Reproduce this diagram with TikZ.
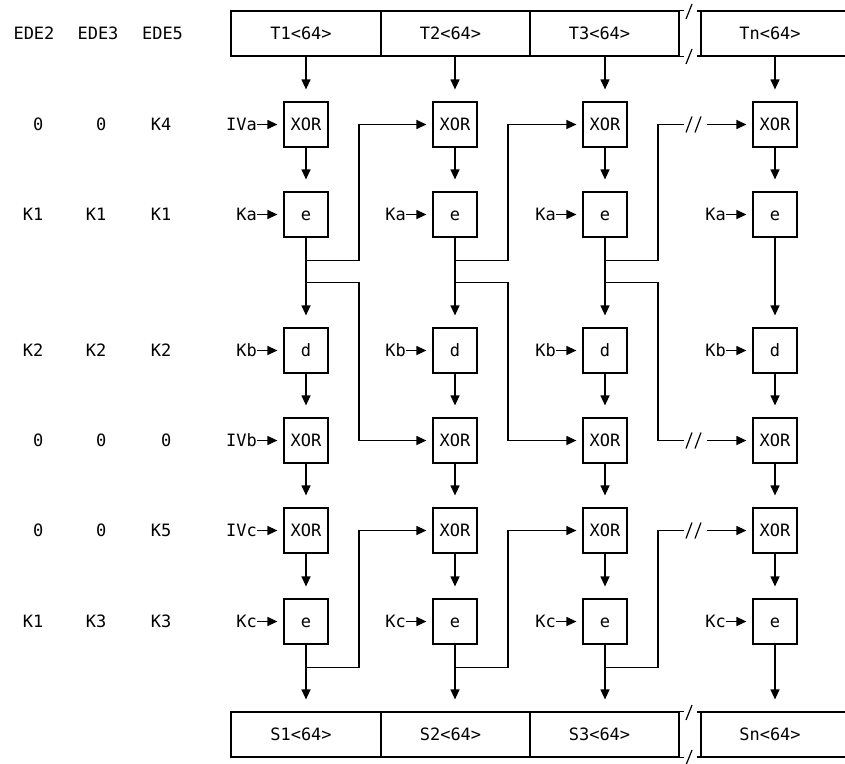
\documentclass[tikz,border=0pt]{standalone}
\usepackage{fontspec}
\newfontfamily\dmono{DejaVu Sans Mono}
\usetikzlibrary{arrows.meta}
\begin{document}
\begin{tikzpicture}[x=1pt,y=-1pt,line width=1.2pt,
  every node/.style={font=\dmono\fontsize{17}{20}\selectfont,inner sep=0pt,text height=12.4pt,text depth=0pt},
  box/.style={draw,minimum width=44pt,minimum height=45pt},
  bar/.style={draw,minimum height=45pt},
  lab/.style={anchor=east},
  val/.style={anchor=east},
  tip/.style={-{Triangle[length=10pt,width=9pt]}},
  varr/.style={tip,shorten >=12pt},
  harr/.style={tip,shorten >=6pt}]
\useasboundingbox (0,0) rectangle (845,763);

% left table
\node (h2) at (34,33.5) {EDE2};
\node (h3) at (98,33.5) {EDE3};
\node (h5) at (162.5,33.5) {EDE5};
\foreach \y/\a/\b/\c [count=\i] in {124.5/0/0/K4, 214.5/K1/K1/K1, 350.5/K2/K2/K2, 440.5/0/0/0, 530.5/0/0/K5, 621.5/K1/K3/K3} {
  \node[val] (va\i) at (44,\y) {\a};
  \node[val] (vb\i) at (107,\y) {\b};
  \node[val] (vc\i) at (172,\y) {\c};
}

% top bar
\node[bar,minimum width=150pt] (T1) at (306,33.5) {T1<64>\kern10pt};
\node[bar,minimum width=149pt] (T2) at (455.5,33.5) {T2<64>\kern10pt};
\node[bar,minimum width=149pt] (T3) at (604.5,33.5) {T3<64>\kern10pt};
\node[minimum width=140pt,minimum height=45pt] (Tn) at (775,33.5) {Tn<64>\kern10pt};
\draw (T3.north east) -- ++(4,0);
\draw (T3.south east) -- ++(4,0);
\draw (697,11) -- (845,11);
\draw (697,56) -- (845,56);
\draw (701,11) -- (701,56);
\draw (686,19) -- (692,4);
\draw (686,64) -- (692,49);

% bottom bar
\node[bar,minimum width=150pt] (S1) at (306,734.5) {S1<64>\kern10pt};
\node[bar,minimum width=149pt] (S2) at (455.5,734.5) {S2<64>\kern10pt};
\node[bar,minimum width=149pt] (S3) at (604.5,734.5) {S3<64>\kern10pt};
\node[minimum width=140pt,minimum height=45pt] (Sn) at (775,734.5) {Sn<64>\kern10pt};
\draw (S3.north east) -- ++(4,0);
\draw (S3.south east) -- ++(4,0);
\draw (697,712) -- (845,712);
\draw (697,757) -- (845,757);
\draw (701,712) -- (701,757);
\draw (686,720) -- (692,705);
\draw (686,765) -- (692,750);

% columns
\foreach \c/\x in {1/306,2/455,3/605,4/775} {
  \node[box] (xa\c) at (\x,124.5) {XOR};
  \node[box] (ea\c) at (\x,214.5) {e};
  \node[box] (d\c) at (\x,350.5) {d};
  \node[box] (xb\c) at (\x,440.5) {XOR};
  \node[box] (xc\c) at (\x,530.5) {XOR};
  \node[box] (ec\c) at (\x,621.5) {e};
  \node[lab] (ka\c) at ([xshift=-26pt]ea\c.west) {Ka};
  \node[lab] (kb\c) at ([xshift=-26pt]d\c.west) {Kb};
  \node[lab] (kc\c) at ([xshift=-26pt]ec\c.west) {Kc};
  \draw[harr] (ka\c) -- (ea\c);
  \draw[harr] (kb\c) -- (d\c);
  \draw[harr] (kc\c) -- (ec\c);
  \draw[varr] (xa\c) -- (ea\c);
  \draw[varr] (ea\c) -- (d\c);
  \draw[varr] (d\c) -- (xb\c);
  \draw[varr] (xb\c) -- (xc\c);
  \draw[varr] (xc\c) -- (ec\c);
}
\node[lab] (iva) at ([xshift=-26pt]xa1.west) {IVa};
\node[lab] (ivb) at ([xshift=-26pt]xb1.west) {IVb};
\node[lab] (ivc) at ([xshift=-26pt]xc1.west) {IVc};
\draw[harr] (iva) -- (xa1);
\draw[harr] (ivb) -- (xb1);
\draw[harr] (ivc) -- (xc1);

% input and output arrows
\draw[varr] (xa1 |- T1.south) -- (xa1);
\draw[varr] (xa2 |- T2.south) -- (xa2);
\draw[varr] (xa3 |- T3.south) -- (xa3);
\draw[varr] (xa4 |- Tn.south) -- (xa4);
\draw[varr] (ec1) -- (ec1 |- S1.north);
\draw[varr] (ec2) -- (ec2 |- S2.north);
\draw[varr] (ec3) -- (ec3 |- S3.north);
\draw[varr] (ec4) -- (ec4 |- Sn.north);

% chaining branches
\foreach \c in {1,2,3} {
  \coordinate (ja\c) at ([yshift=-23pt]ea\c.south);
  \coordinate (jb\c) at ([yshift=-45pt]ea\c.south);
  \coordinate (jc\c) at ([yshift=-23pt]ec\c.south);
}
\draw[harr] (ja1) -- ++(53,0) |- (xa2);
\draw[harr] (jb1) -- ++(53,0) |- (xb2);
\draw[harr] (jc1) -- ++(53,0) |- (xc2);
\draw[harr] (ja2) -- ++(53,0) |- (xa3);
\draw[harr] (jb2) -- ++(53,0) |- (xb3);
\draw[harr] (jc2) -- ++(53,0) |- (xc3);
% broken links to column n
\foreach \r/\y in {a/124.5,b/440.5,c/530.5} {
  \coordinate (g\r1) at (684,\y);
  \coordinate (g\r2) at (707,\y);
  \draw (686,\y+8) -- (692,\y-8);
  \draw (695,\y+8) -- (701,\y-8);
}
\draw (ja3) -- ++(53,0) |- (ga1);
\draw (jb3) -- ++(53,0) |- (gb1);
\draw (jc3) -- ++(53,0) |- (gc1);
\draw[harr] (ga2) -- (xa4);
\draw[harr] (gb2) -- (xb4);
\draw[harr] (gc2) -- (xc4);
\end{tikzpicture}
\end{document}
